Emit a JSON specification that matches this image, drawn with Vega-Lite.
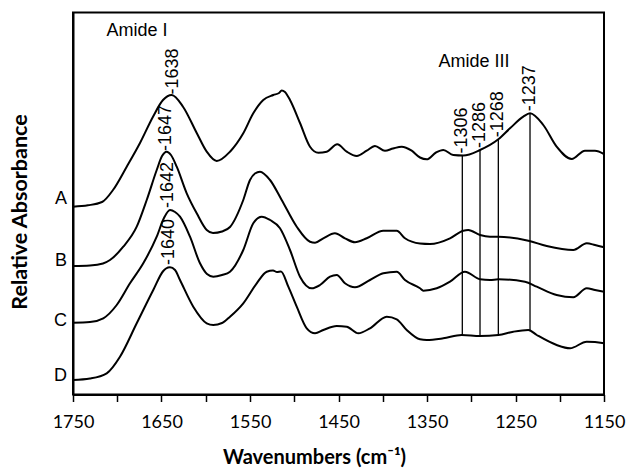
{
  "$schema": "https://vega.github.io/schema/vega-lite/v6.json",
  "width": 531,
  "height": 382,
  "autosize": "none",
  "padding": {"left": 73, "top": 12.5, "right": 25, "bottom": 73.5},
  "background": "white",
  "config": {
    "view": {"stroke": "black", "strokeWidth": 2},
    "axis": {"grid": false, "domainColor": "black", "domainWidth": 2}
  },
  "datasets": {
    "spectra": [
      {"s":"A","w":1750,"a":1.878},{"s":"A","w":1733.1,"a":1.892},{"s":"A","w":1717.2,"a":1.925},{"s":"A","w":1704.8,"a":2.045},{"s":"A","w":1689.3,"a":2.278},{"s":"A","w":1674.3,"a":2.515},{"s":"A","w":1659.6,"a":2.778},{"s":"A","w":1648.3,"a":2.945},{"s":"A","w":1638.5,"a":2.995},{"s":"A","w":1625.7,"a":2.878},{"s":"A","w":1610.2,"a":2.615},{"s":"A","w":1598.9,"a":2.428},{"s":"A","w":1587.6,"a":2.335},{"s":"A","w":1572.6,"a":2.428},{"s":"A","w":1557.6,"a":2.612},{"s":"A","w":1546.3,"a":2.812},{"s":"A","w":1535.0,"a":2.945},{"s":"A","w":1523.7,"a":2.995},{"s":"A","w":1517.2,"a":3.015},{"s":"A","w":1514.2,"a":3.04},{"s":"A","w":1510.5,"a":3.025},{"s":"A","w":1504.8,"a":2.945},{"s":"A","w":1493.5,"a":2.715},{"s":"A","w":1482.2,"a":2.478},{"s":"A","w":1472.8,"a":2.418},{"s":"A","w":1463.3,"a":2.428},{"s":"A","w":1451.4,"a":2.502},{"s":"A","w":1440.7,"a":2.428},{"s":"A","w":1429.4,"a":2.385},{"s":"A","w":1418.1,"a":2.438},{"s":"A","w":1408.8,"a":2.485},{"s":"A","w":1397.5,"a":2.438},{"s":"A","w":1388.4,"a":2.46},{"s":"A","w":1378.6,"a":2.478},{"s":"A","w":1367.3,"a":2.438},{"s":"A","w":1357.9,"a":2.37},{"s":"A","w":1350.3,"a":2.352},{"s":"A","w":1339.8,"a":2.42},{"s":"A","w":1331.6,"a":2.445},{"s":"A","w":1320.3,"a":2.395},{"s":"A","w":1309.0,"a":2.39},{"s":"A","w":1290.1,"a":2.445},{"s":"A","w":1269.4,"a":2.552},{"s":"A","w":1256.2,"a":2.662},{"s":"A","w":1241.2,"a":2.778},{"s":"A","w":1233.6,"a":2.812},{"s":"A","w":1218.6,"a":2.695},{"s":"A","w":1203.5,"a":2.478},{"s":"A","w":1186.5,"a":2.355},{"s":"A","w":1171.5,"a":2.438},{"s":"A","w":1160.2,"a":2.438},{"s":"A","w":1150,"a":2.405},
      {"s":"B","w":1750,"a":1.285},{"s":"B","w":1730.8,"a":1.29},{"s":"B","w":1716.1,"a":1.31},{"s":"B","w":1708.2,"a":1.345},{"s":"B","w":1693.2,"a":1.478},{"s":"B","w":1678.0,"a":1.678},{"s":"B","w":1666.7,"a":1.945},{"s":"B","w":1655.4,"a":2.245},{"s":"B","w":1649.4,"a":2.385},{"s":"B","w":1644.1,"a":2.428},{"s":"B","w":1639.3,"a":2.395},{"s":"B","w":1632.8,"a":2.278},{"s":"B","w":1621.5,"a":2.012},{"s":"B","w":1610.2,"a":1.812},{"s":"B","w":1598.9,"a":1.645},{"s":"B","w":1591.8,"a":1.615},{"s":"B","w":1581.6,"a":1.63},{"s":"B","w":1572.6,"a":1.675},{"s":"B","w":1557.6,"a":1.945},{"s":"B","w":1550.0,"a":2.145},{"s":"B","w":1544.4,"a":2.21},{"s":"B","w":1538.7,"a":2.228},{"s":"B","w":1527.4,"a":2.145},{"s":"B","w":1514.2,"a":1.945},{"s":"B","w":1497.2,"a":1.678},{"s":"B","w":1482.2,"a":1.528},{"s":"B","w":1476.5,"a":1.518},{"s":"B","w":1467.2,"a":1.562},{"s":"B","w":1454.0,"a":1.612},{"s":"B","w":1442.7,"a":1.562},{"s":"B","w":1431.4,"a":1.522},{"s":"B","w":1418.1,"a":1.562},{"s":"B","w":1399.4,"a":1.638},{"s":"B","w":1384.2,"a":1.638},{"s":"B","w":1374.9,"a":1.562},{"s":"B","w":1357.9,"a":1.51},{"s":"B","w":1346.6,"a":1.505},{"s":"B","w":1324.0,"a":1.562},{"s":"B","w":1309.0,"a":1.638},{"s":"B","w":1303.3,"a":1.645},{"s":"B","w":1290.1,"a":1.595},{"s":"B","w":1278.8,"a":1.578},{"s":"B","w":1269.4,"a":1.578},{"s":"B","w":1235.5,"a":1.538},{"s":"B","w":1214.7,"a":1.485},{"s":"B","w":1184.7,"a":1.445},{"s":"B","w":1169.5,"a":1.512},{"s":"B","w":1160.2,"a":1.495},{"s":"B","w":1150,"a":1.472},
      {"s":"C","w":1750,"a":0.718},{"s":"C","w":1730.8,"a":0.725},{"s":"C","w":1715.8,"a":0.762},{"s":"C","w":1700.6,"a":0.895},{"s":"C","w":1685.6,"a":1.112},{"s":"C","w":1670.6,"a":1.312},{"s":"C","w":1655.4,"a":1.578},{"s":"C","w":1647.2,"a":1.765},{"s":"C","w":1640.4,"a":1.845},{"s":"C","w":1634.7,"a":1.825},{"s":"C","w":1629.1,"a":1.778},{"s":"C","w":1617.8,"a":1.578},{"s":"C","w":1606.5,"a":1.312},{"s":"C","w":1598.6,"a":1.205},{"s":"C","w":1591.5,"a":1.178},{"s":"C","w":1581.6,"a":1.195},{"s":"C","w":1572.6,"a":1.228},{"s":"C","w":1557.6,"a":1.445},{"s":"C","w":1546.3,"a":1.712},{"s":"C","w":1536.8,"a":1.778},{"s":"C","w":1527.4,"a":1.745},{"s":"C","w":1516.1,"a":1.662},{"s":"C","w":1504.8,"a":1.445},{"s":"C","w":1493.5,"a":1.178},{"s":"C","w":1480.3,"a":1.062},{"s":"C","w":1470.9,"a":1.095},{"s":"C","w":1459.6,"a":1.178},{"s":"C","w":1452.0,"a":1.195},{"s":"C","w":1442.7,"a":1.112},{"s":"C","w":1431.4,"a":1.072},{"s":"C","w":1414.4,"a":1.145},{"s":"C","w":1399.4,"a":1.212},{"s":"C","w":1384.2,"a":1.228},{"s":"C","w":1374.9,"a":1.145},{"s":"C","w":1357.9,"a":1.062},{"s":"C","w":1354.2,"a":1.038},{"s":"C","w":1339.0,"a":1.062},{"s":"C","w":1324.0,"a":1.128},{"s":"C","w":1307.1,"a":1.228},{"s":"C","w":1290.1,"a":1.152},{"s":"C","w":1278.8,"a":1.145},{"s":"C","w":1269.4,"a":1.152},{"s":"C","w":1239.3,"a":1.128},{"s":"C","w":1226.0,"a":1.078},{"s":"C","w":1203.5,"a":0.995},{"s":"C","w":1184.7,"a":0.972},{"s":"C","w":1169.5,"a":1.062},{"s":"C","w":1160.2,"a":1.045},{"s":"C","w":1150,"a":1.028},
      {"s":"D","w":1750,"a":0.145},{"s":"D","w":1730.8,"a":0.16},{"s":"D","w":1711.9,"a":0.212},{"s":"D","w":1696.9,"a":0.378},{"s":"D","w":1678.0,"a":0.712},{"s":"D","w":1659.3,"a":1.045},{"s":"D","w":1648.0,"a":1.235},{"s":"D","w":1644.9,"a":1.26},{"s":"D","w":1640.4,"a":1.272},{"s":"D","w":1634.7,"a":1.245},{"s":"D","w":1629.1,"a":1.145},{"s":"D","w":1614.1,"a":0.878},{"s":"D","w":1598.9,"a":0.712},{"s":"D","w":1591.5,"a":0.695},{"s":"D","w":1581.6,"a":0.715},{"s":"D","w":1572.6,"a":0.778},{"s":"D","w":1557.6,"a":0.912},{"s":"D","w":1542.4,"a":1.112},{"s":"D","w":1531.1,"a":1.228},{"s":"D","w":1524.0,"a":1.24},{"s":"D","w":1519.5,"a":1.225},{"s":"D","w":1515.0,"a":1.23},{"s":"D","w":1506.7,"a":1.078},{"s":"D","w":1497.2,"a":0.878},{"s":"D","w":1485.9,"a":0.662},{"s":"D","w":1476.5,"a":0.612},{"s":"D","w":1467.2,"a":0.645},{"s":"D","w":1452.0,"a":0.685},{"s":"D","w":1440.7,"a":0.678},{"s":"D","w":1427.6,"a":0.612},{"s":"D","w":1414.4,"a":0.662},{"s":"D","w":1395.5,"a":0.778},{"s":"D","w":1384.2,"a":0.752},{"s":"D","w":1372.9,"a":0.645},{"s":"D","w":1357.9,"a":0.552},{"s":"D","w":1350.3,"a":0.545},{"s":"D","w":1331.6,"a":0.562},{"s":"D","w":1310.8,"a":0.595},{"s":"D","w":1290.1,"a":0.585},{"s":"D","w":1269.4,"a":0.595},{"s":"D","w":1252.5,"a":0.628},{"s":"D","w":1235.5,"a":0.645},{"s":"D","w":1226.0,"a":0.595},{"s":"D","w":1203.5,"a":0.495},{"s":"D","w":1188.4,"a":0.462},{"s":"D","w":1169.5,"a":0.528},{"s":"D","w":1160.2,"a":0.525},{"s":"D","w":1150,"a":0.512}
    ],
    "markers": [
      {"w":1310.1,"a":2.39,"a2":0.595,"label":"-1306"},
      {"w":1290.1,"a":2.445,"a2":0.585,"label":"-1286"},
      {"w":1269.4,"a":2.552,"a2":0.602,"label":"-1268"},
      {"w":1233.6,"a":2.812,"a2":0.645,"label":"-1237"}
    ],
    "peaks": [
      {"w":1636.7,"a":2.99,"label":"-1638"},
      {"w":1645.3,"a":2.425,"label":"-1647"},
      {"w":1642.3,"a":1.855,"label":"-1642"},
      {"w":1641.5,"a":1.285,"label":"-1640"}
    ],
    "series": [
      {"w":1750,"a":1.958,"label":"A"},
      {"w":1750,"a":1.34,"label":"B"},
      {"w":1750,"a":0.735,"label":"C"},
      {"w":1750,"a":0.185,"label":"D"}
    ],
    "bands": [
      {"w":1677.7,"a":3.635,"label":"Amide I"},
      {"w":1297,"a":3.33,"label":"Amide III"}
    ]
  },
  "encoding": {
    "x": {
      "field": "w", "type": "quantitative",
      "scale": {"domain": [1150, 1750], "reverse": true, "nice": false, "zero": false},
      "axis": {
        "title": "Wavenumbers (cm⁻¹)",
        "values": [1750,1700,1650,1600,1550,1500,1450,1400,1350,1300,1250,1200,1150],
        "format": "d",
        "labelExpr": "datum.value % 100 == 50 ? datum.label : ''",
        "tickSize": 7, "tickWidth": 1.5, "tickColor": "black",
        "labelFont": "Lato", "labelFontSize": 18, "labelColor": "black", "labelPadding": 12,
        "labelFlush": false, "labelOverlap": false,
        "titleFont": "Lato", "titleFontSize": 20, "titleFontWeight": "bold", "titleColor": "black", "titlePadding": 16,
        "titleX": 241
      }
    },
    "y": {
      "field": "a", "type": "quantitative",
      "scale": {"domain": [0, 3.82], "nice": false, "zero": false},
      "axis": {
        "title": "Relative Absorbance",
        "ticks": false, "labels": false,
        "titleFont": "Lato", "titleFontSize": 21.5, "titleFontWeight": "bold", "titleColor": "black", "titlePadding": 42,
        "titleY": 199
      }
    }
  },
  "layer": [
    {
      "data": {"name": "spectra"},
      "mark": {"type": "line", "color": "black", "strokeWidth": 2, "interpolate": "monotone"},
      "encoding": {"detail": {"field": "s"}}
    },
    {
      "data": {"name": "markers"},
      "mark": {"type": "rule", "color": "black", "strokeWidth": 1.3},
      "encoding": {"y2": {"field": "a2"}}
    },
    {
      "data": {"name": "markers"},
      "mark": {"type": "text", "angle": 270, "align": "left", "baseline": "middle", "dx": 2, "font": "Liberation Sans", "fontSize": 18, "color": "black"},
      "encoding": {"text": {"field": "label"}}
    },
    {
      "data": {"name": "peaks"},
      "mark": {"type": "text", "angle": 270, "align": "left", "baseline": "middle", "dx": 1, "font": "Liberation Sans", "fontSize": 18, "color": "black"},
      "encoding": {"text": {"field": "label"}}
    },
    {
      "data": {"name": "series"},
      "mark": {"type": "text", "align": "right", "baseline": "middle", "dx": -6, "font": "Liberation Sans", "fontSize": 18, "color": "black"},
      "encoding": {"text": {"field": "label"}}
    },
    {
      "data": {"name": "bands"},
      "mark": {"type": "text", "align": "center", "baseline": "middle", "font": "Liberation Sans", "fontSize": 18, "color": "black"},
      "encoding": {"text": {"field": "label"}}
    }
  ]
}
